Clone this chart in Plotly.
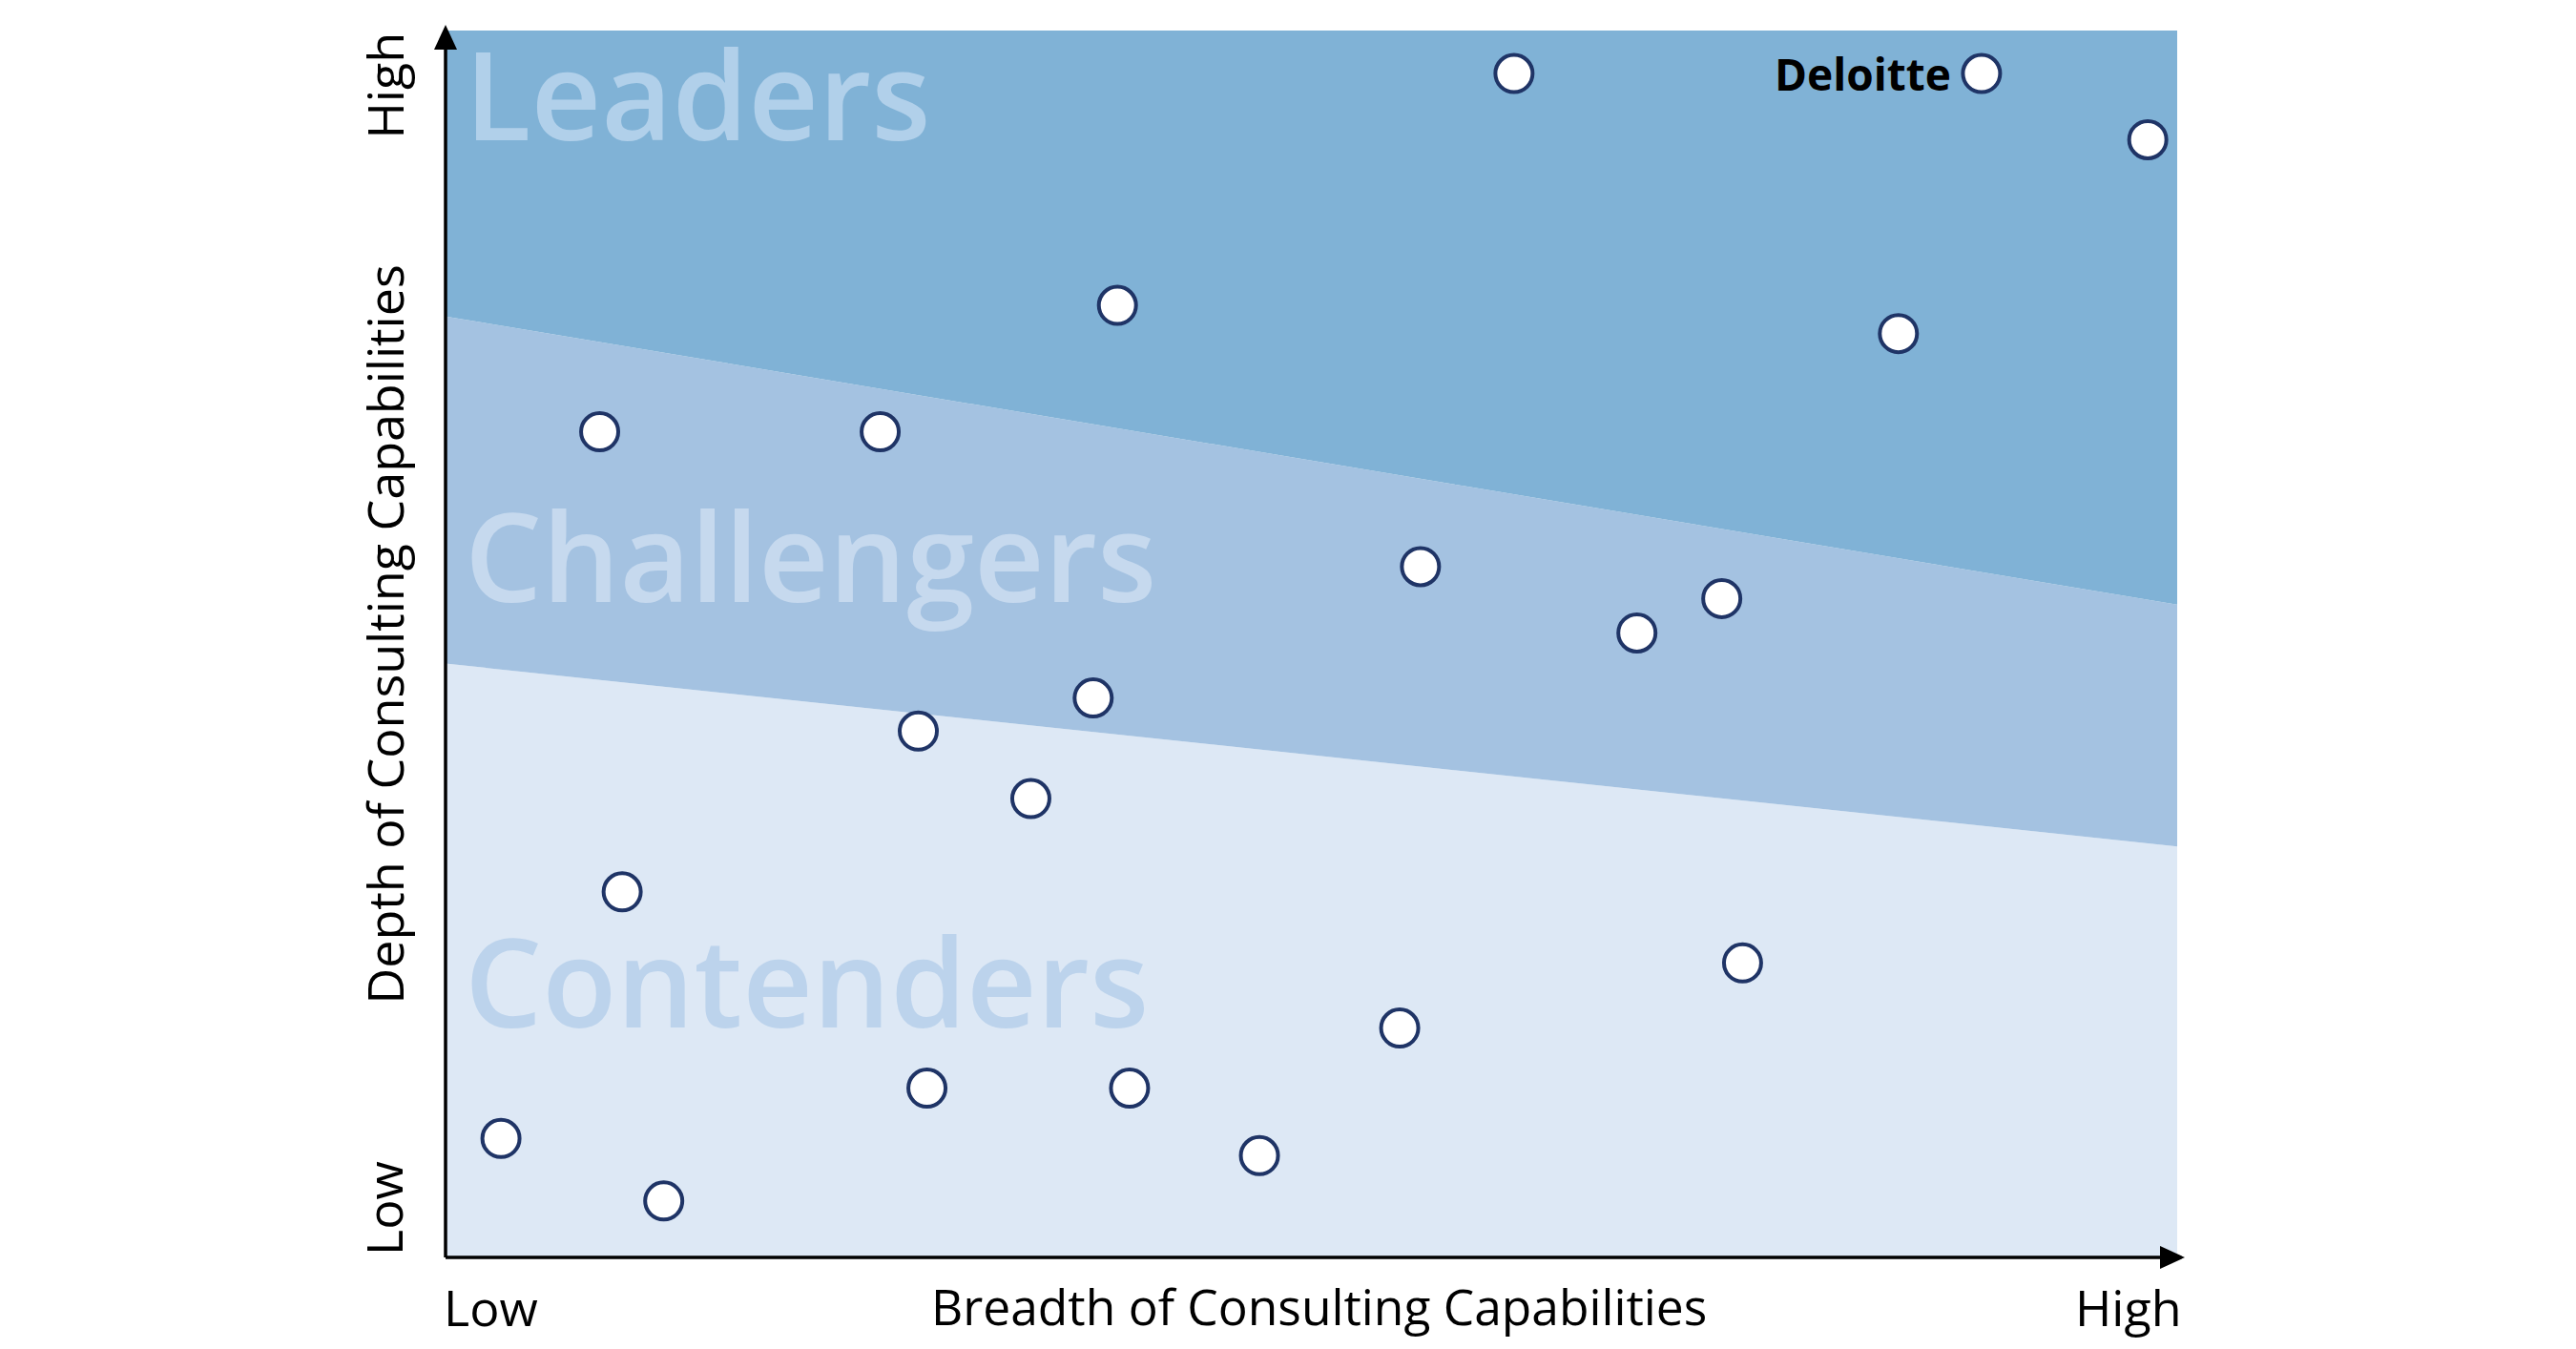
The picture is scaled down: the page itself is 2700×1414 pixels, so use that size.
import plotly.graph_objects as go

# ---- data ----
firm_x = [6.17, 8.87, 9.83, 3.88, 8.39, 0.89, 2.51, 5.63, 7.37, 6.88, 3.74,
          2.73, 3.38, 1.02, 7.49, 5.51, 2.78, 3.95, 0.32, 4.70, 1.26]
firm_y = [9.65, 9.65, 9.11, 7.76, 7.53, 6.73, 6.73, 5.63, 5.37, 5.09, 4.56,
          4.29, 3.74, 2.98, 2.40, 1.87, 1.38, 1.38, 0.97, 0.83, 0.46]
firm_labels = ["", "Deloitte", "", "", "", "", "", "", "", "", "",
               "", "", "", "", "", "", "", "", "", ""]

band_x = [0, 10]
upper_boundary = [7.67, 5.32]   # Leaders / Challengers
lower_boundary = [4.84, 3.35]   # Challengers / Contenders
zone_names = ["Leaders", "Challengers", "Contenders"]
zone_label_y = [9.49, 5.73, 2.26]

x_title = "Breadth of Consulting Capabilities"
y_title = "Depth of Consulting Capabilities"
tick_low, tick_high = "Low", "High"

# ---- figure ----
W, H = 2700, 1414
L, R, T, B = 459, 426, 24, 104
pw, ph = W - L - R, H - T - B

FONT = "Open Sans"
fig = go.Figure()

band_colors = ["#dde8f5", "#a4c2e1", "#80b2d6"]
polys = [
    ([band_x[0], band_x[1], band_x[1], band_x[0]], [0, 0, lower_boundary[1], lower_boundary[0]]),
    ([band_x[0], band_x[1], band_x[1], band_x[0]], [lower_boundary[0], lower_boundary[1], upper_boundary[1], upper_boundary[0]]),
    ([band_x[0], band_x[1], band_x[1], band_x[0]], [upper_boundary[0], upper_boundary[1], 10, 10]),
]
for (px, py), c in zip(polys, band_colors):
    fig.add_trace(go.Scatter(x=px + [px[0]], y=py + [py[0]], mode="lines", fill="toself",
                             fillcolor=c, line=dict(width=0, color=c), hoverinfo="skip",
                             showlegend=False))

label_colors = ["#b1d0ea", "#c6d9ee", "#bcd3ec"]
for name, yy, c in zip(zone_names, zone_label_y, label_colors):
    fig.add_annotation(x=0, y=yy, xref="x", yref="y", text=name, showarrow=False,
                       xanchor="left", yanchor="middle", xshift=18,
                       font=dict(family=FONT, size=128, color=c, weight=600))

fig.add_trace(go.Scatter(x=firm_x, y=firm_y, mode="markers",
                         marker=dict(size=39, color="white", line=dict(color="#1f3466", width=4)),
                         hoverinfo="skip", showlegend=False))

for xx, yy, t in zip(firm_x, firm_y, firm_labels):
    if t:
        fig.add_annotation(x=xx, y=yy, text="<b>%s</b>" % t, showarrow=False, xanchor="right",
                           yanchor="middle", xshift=-30,
                           font=dict(family=FONT, size=46, color="black"))

# axis lines
fig.add_shape(type="line", xref="paper", yref="paper", x0=0, y0=0, x1=0, y1=1 - 5 / ph,
              line=dict(color="black", width=3.5), layer="above")
fig.add_shape(type="line", xref="paper", yref="paper", x0=0, y0=0, x1=1, y1=0,
              line=dict(color="black", width=3.5), layer="above")
# arrowheads
aw, al = 12, 26
fig.add_shape(type="path", xref="paper", yref="paper", fillcolor="black", line=dict(width=0),
              layer="above",
              path="M %f %f L %f %f L %f %f Z" % (-aw / pw, 1 - (al - 6) / ph, aw / pw, 1 - (al - 6) / ph,
                                                   0, 1 + 6 / ph))
fig.add_shape(type="path", xref="paper", yref="paper", fillcolor="black", line=dict(width=0),
              layer="above",
              path="M %f %f L %f %f L %f %f Z" % (1 - (al - 8) / pw, aw / ph, 1 - (al - 8) / pw, -aw / ph,
                                                   1 + 8 / pw, 0))

# axis texts
tf = dict(family=FONT, size=52, color="black")
tf2 = dict(family=FONT, size=51.5, color="black")
fig.add_annotation(x=0, y=0, xref="paper", yref="paper", text=tick_low, showarrow=False,
                   xanchor="left", yanchor="top", yshift=-14, xshift=-4, font=tf)
fig.add_annotation(x=1, y=0, xref="paper", yref="paper", text=tick_high, showarrow=False,
                   xanchor="right", yanchor="top", yshift=-14, xshift=7, font=tf)
fig.add_annotation(x=0.5, y=0, xref="paper", yref="paper", text=x_title, showarrow=False,
                   xanchor="center", yanchor="top", yshift=-14, xshift=8, font=tf2)
fig.add_annotation(x=0, y=0, xref="paper", yref="paper", text=tick_low, showarrow=False,
                   textangle=-90, xanchor="right", yanchor="bottom", xshift=-28, font=tf)
fig.add_annotation(x=0, y=1, xref="paper", yref="paper", text=tick_high, showarrow=False,
                   textangle=-90, xanchor="right", yanchor="top", xshift=-28, font=tf)
fig.add_annotation(x=0, y=0.5, xref="paper", yref="paper", text=y_title, showarrow=False,
                   textangle=-90, xanchor="right", yanchor="middle", xshift=-28, yshift=10, font=tf)

fig.update_layout(
    width=W, height=H, margin=dict(l=L, r=R, t=T, b=B),
    paper_bgcolor="white", plot_bgcolor="white",
    xaxis=dict(range=[0, 10], visible=False, fixedrange=True),
    yaxis=dict(range=[0, 10], visible=False, fixedrange=True),
    showlegend=False,
)

fig.write_html("out.html")
